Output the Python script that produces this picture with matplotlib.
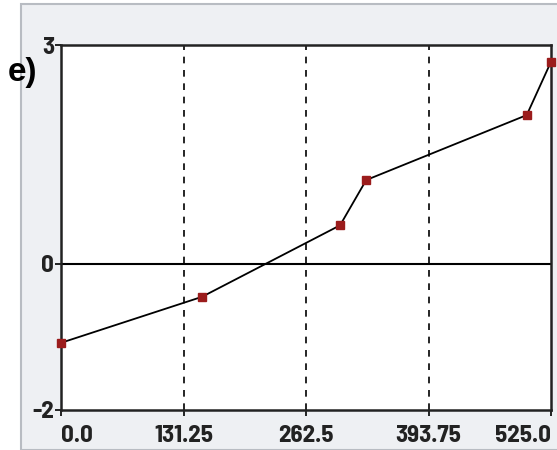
import matplotlib.pyplot as plt
from matplotlib.patches import Rectangle

x_vals = [0, 151, 299, 327, 499, 525]
y_vals = [-1.08, -0.45, 0.53, 1.15, 2.04, 2.77]
x_ticks = [0.0, 131.25, 262.5, 393.75, 525.0]
x_labels = ["0.0", "131.25", "262.5", "393.75", "525.0"]
y_ticks = [-2, 0, 3]
y_labels = ["-2", "0", "3"]

narrow = ["Barlow Semi Condensed", "Barlow Condensed", "DejaVu Sans"]

fig = plt.figure(figsize=(5.57, 4.5), dpi=100)
fig.patch.set_facecolor("white")
fig.patches.append(Rectangle((21 / 557, 0), 1, 1 - 4 / 450, transform=fig.transFigure,
                             facecolor="#eef0f3", edgecolor="#b8bcc2", linewidth=1.5, zorder=-10))

ax = fig.add_axes([61 / 557, 40 / 450, 490 / 557, 365 / 450])
ax.set_facecolor("white")
ax.set_xlim(0, 525)
ax.set_ylim(-2, 3)

for xv in x_ticks[1:-1]:
    ax.axvline(xv, color="black", linestyle=(0, (4, 4)), linewidth=1.2, zorder=1)
ax.axhline(0, color="black", linewidth=1.5, zorder=1)

ax.plot(x_vals, y_vals, color="black", linewidth=1.3, zorder=2)
ax.plot(x_vals, y_vals, linestyle="none", marker="s", markersize=6,
        color="#9b1c1c", zorder=3, clip_on=False)

for s in ax.spines.values():
    s.set_linewidth(1.8)
    s.set_color("#222222")

ax.set_xticks(x_ticks)
ax.set_xticklabels(x_labels)
ax.set_yticks(y_ticks)
ax.set_yticklabels(y_labels)
ax.tick_params(axis="both", direction="out", length=4, width=1.2, labelsize=18)
ax.tick_params(axis="x", pad=7)
ax.tick_params(axis="y", pad=1)
for lab in ax.get_xticklabels() + ax.get_yticklabels():
    lab.set_family(narrow)
    lab.set_fontweight("bold")
    lab.set_color("#222222")
xl = ax.get_xticklabels()
xl[0].set_ha("left")
xl[-1].set_ha("right")

fig.text(8 / 557, 1 - 73 / 450, "e)", fontsize=24, fontweight="bold",
         family="Liberation Sans", va="center", ha="left")

fig.savefig("out.png", dpi=100)
plt.close(fig)
